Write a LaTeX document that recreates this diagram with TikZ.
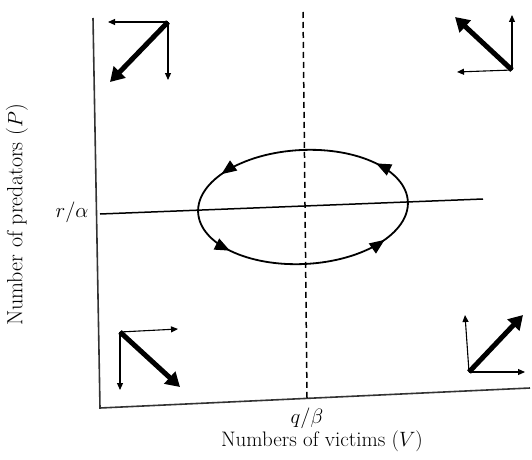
\documentclass[tikz,border=0pt]{standalone}
\usetikzlibrary{arrows.meta,decorations.markings}
\begin{document}
\begin{tikzpicture}[x=1pt,y=1pt,
  axis/.style={line width=1.6pt,draw=black!80},
  thinarr/.style={line width=1.1pt,-{Triangle[length=7pt,width=6pt]}},
  thickarr/.style={line width=5pt,-{Triangle[length=14pt,width=16pt]}},
  lbl/.style={font=\fontsize{21}{24}\selectfont},
  orbit/.style={line width=1.8pt,postaction={decorate},
    decoration={markings,
      mark=at position 0.10 with {\arrow{Triangle[length=15pt,width=12pt]}},
      mark=at position 0.41 with {\arrow{Triangle[length=15pt,width=12pt]}},
      mark=at position 0.60 with {\arrow{Triangle[length=15pt,width=12pt]}},
      mark=at position 0.91 with {\arrow{Triangle[length=15pt,width=12pt]}}}}]
\useasboundingbox (0,0) rectangle (532,459);
% axes
\coordinate (ytop) at (93,441);
\coordinate (orig) at (100,51);
\coordinate (xend) at (530,71);
\draw[axis] (ytop) -- (orig) -- (xend);
% isoclines
\coordinate (hl) at (100,245);
\coordinate (hr) at (483,260);
\draw[line width=1.5pt] (hl) -- (hr);
\coordinate (vt) at (303,447);
\coordinate (vb) at (307,61);
\draw[line width=1.5pt,dash pattern=on 6pt off 4pt] (vt) -- (vb);
% orbit
\coordinate (c) at (303,252);
\draw[orbit,rotate around={3:(c)}] (c) ellipse [x radius=105, y radius=57];
% labels
\node[lbl,anchor=east] (ra) at (92,247) {$r/\alpha$};
\node[lbl] (qb) at (307,41) {$q/\beta$};
\node[lbl] (xl) at (322,18) {Numbers of victims ($V$)};
\node[lbl,font=\fontsize{22}{24}\selectfont,rotate=90] (yl) at (17,244) {Number of predators ($P$)};
% top-left
\coordinate (a0) at (168,437);
\coordinate (a1) at (108,437);
\coordinate (a2) at (168,379);
\coordinate (a3) at (110,377);
\draw[thinarr] (a0) -- (a1);
\draw[thinarr] (a0) -- (a2);
\draw[thickarr] (a0) -- (a3);
% top-right
\coordinate (b0) at (512,389);
\coordinate (b1) at (457,387);
\coordinate (b2) at (512,444);
\coordinate (b3) at (455,442);
\draw[thinarr] (b0) -- (b1);
\draw[thinarr] (b0) -- (b2);
\draw[thickarr] (b0) -- (b3);
% bottom-left
\coordinate (c0) at (120,127);
\coordinate (c1) at (178,130);
\coordinate (c2) at (120,69);
\coordinate (c3) at (180,72);
\draw[thinarr] (c0) -- (c1);
\draw[thinarr] (c0) -- (c2);
\draw[thickarr] (c0) -- (c3);
% bottom-right
\coordinate (d0) at (469,87);
\coordinate (d1) at (465,144);
\coordinate (d2) at (525,87);
\coordinate (d3) at (523,144);
\draw[thinarr] (d0) -- (d1);
\draw[thinarr] (d0) -- (d2);
\draw[thickarr] (d0) -- (d3);
\end{tikzpicture}
\end{document}
